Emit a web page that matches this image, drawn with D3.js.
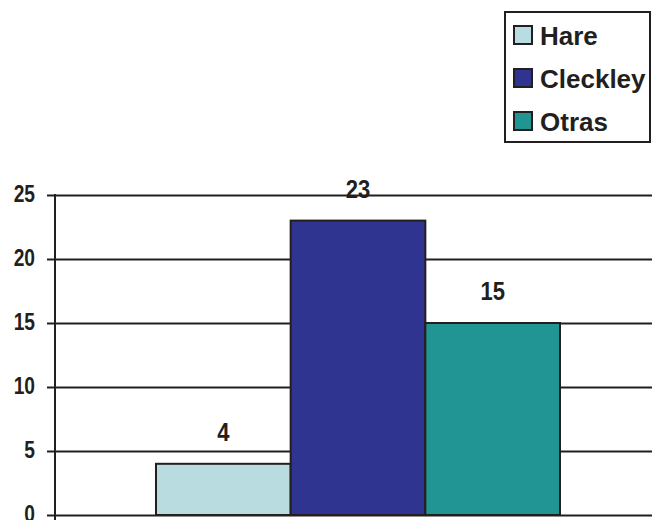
<!DOCTYPE html>
<html>
<head>
<meta charset="utf-8">
<script src="https://cdn.jsdelivr.net/npm/d3@7/dist/d3.min.js"></script>
<style>
  html, body { margin: 0; padding: 0; background: #fff; overflow: hidden; }
  svg { display: block; }
  text { font-family: "Liberation Sans", Arial, sans-serif; font-weight: bold; fill: #231f20; }
</style>
</head>
<body>
<div id="chart"></div>
<script>
// Data
const categories = [""];
const seriesNames = ["Hare", "Cleckley", "Otras"];
const seriesValues = [4, 23, 15];
const seriesColors = ["#b8dce0", "#2e348f", "#209594"];
const yTicks = [0, 5, 10, 15, 20, 25];

const W = 652, H = 520;
const ink = "#231f20";
const plot = { left: 55, right: 661, top: 195, bottom: 515 };

const svg = d3.select("#chart").append("svg")
  .attr("width", W).attr("height", H);

const y = d3.scaleLinear().domain([0, 25]).range([plot.bottom, plot.top]);
const x0 = d3.scaleBand().domain(categories)
  .range([plot.left, plot.right]).paddingInner(0).paddingOuter(0.25);
const x1 = d3.scaleBand().domain(seriesNames)
  .range([0, x0.bandwidth()]).padding(0);

// Gridlines + ticks via axis
const yAxis = d3.axisLeft(y).tickValues(yTicks)
  .tickSize(-(plot.right - plot.left)).tickPadding(0).tickFormat(d3.format("d"));
const gAxis = svg.append("g")
  .attr("transform", `translate(${plot.left},0)`)
  .call(yAxis);
gAxis.select(".domain").remove();
gAxis.selectAll(".tick line")
  .attr("x1", -8)
  .attr("stroke", ink).attr("stroke-width", 2);
gAxis.selectAll(".tick text")
  .attr("x", 0).attr("dy", "0.3em")
  .attr("transform", "translate(-20,-1) scale(0.8,1)")
  .attr("font-size", 24)
  .style("fill", ink)
  .attr("font-family", "'Liberation Sans', Arial, sans-serif")
  .attr("font-weight", "bold");

// Bars
const gBars = svg.append("g");
const data = seriesNames.map((n, i) => ({ name: n, value: seriesValues[i], color: seriesColors[i] }));
gBars.selectAll("rect").data(data).join("rect")
  .attr("x", d => x0(categories[0]) + x1(d.name))
  .attr("width", x1.bandwidth())
  .attr("y", d => y(d.value))
  .attr("height", d => y(0) - y(d.value))
  .attr("fill", d => d.color)
  .attr("stroke", ink).attr("stroke-width", 2);

// Value labels
gBars.selectAll("text.val").data(data).join("text")
  .attr("class", "val")
  .attr("transform", d => `translate(${x0(categories[0]) + x1(d.name) + x1.bandwidth() / 2},${y(d.value) - 23}) scale(0.88,1)`)
  .attr("text-anchor", "middle")
  .attr("font-size", 25)
  .text(d => d.value);

// Y axis line
svg.append("line")
  .attr("x1", plot.left).attr("x2", plot.left)
  .attr("y1", plot.top - 1).attr("y2", H)
  .attr("stroke", ink).attr("stroke-width", 2);

// Legend
const leg = svg.append("g");
leg.append("rect")
  .attr("x", 505).attr("y", 12).attr("width", 145).attr("height", 130)
  .attr("fill", "#fff").attr("stroke", ink).attr("stroke-width", 2);
const rowsY = [35, 78, 121];
const item = leg.selectAll("g.item").data(data).join("g")
  .attr("class", "item")
  .attr("transform", (d, i) => `translate(514,${rowsY[i]})`);
item.append("rect")
  .attr("x", 0).attr("y", -9).attr("width", 18).attr("height", 18)
  .attr("fill", d => d.color).attr("stroke", ink).attr("stroke-width", 2);
item.append("text")
  .attr("x", 26).attr("y", 9.5)
  .attr("font-size", 26)
  .text(d => d.name);
</script>
</body>
</html>
